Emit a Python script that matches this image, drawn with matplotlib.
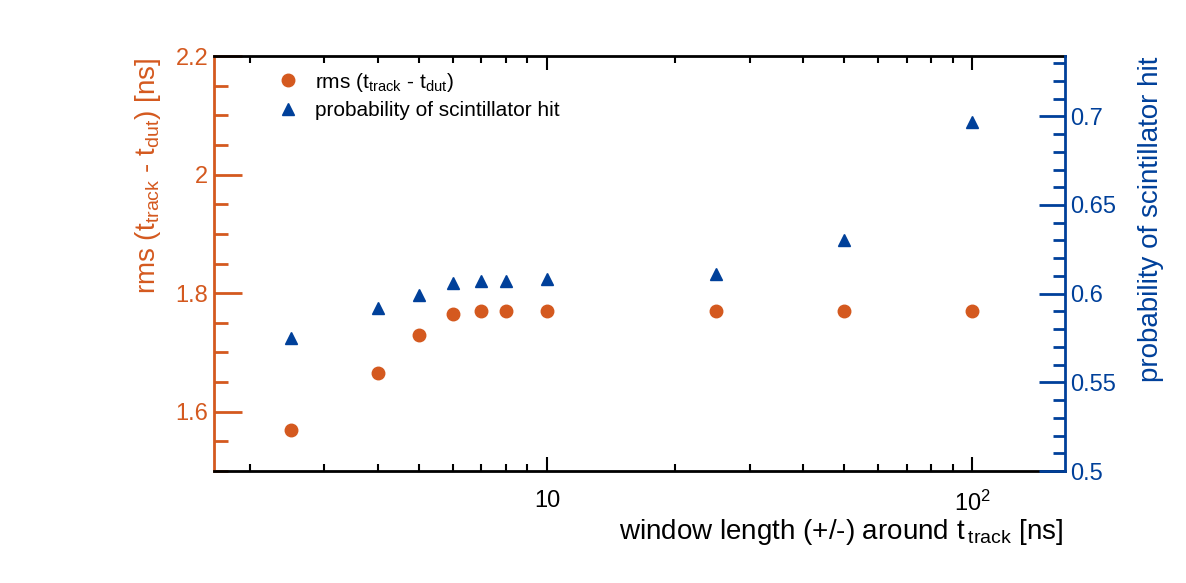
import matplotlib
matplotlib.use("Agg")
import matplotlib.pyplot as plt
from matplotlib.ticker import FixedLocator, NullFormatter, LogLocator, MultipleLocator

plt.rcParams['font.family'] = ['Liberation Sans', 'DejaVu Sans']
plt.rcParams['mathtext.fontset'] = 'custom'
plt.rcParams['mathtext.rm'] = 'Liberation Sans'
plt.rcParams['mathtext.it'] = 'Liberation Sans'
plt.rcParams['mathtext.default'] = 'rm'

# data
window = [2.5, 4, 5, 6, 7, 8, 10, 25, 50, 100]
rms = [1.569, 1.665, 1.730, 1.765, 1.770, 1.770, 1.770, 1.770, 1.770, 1.770]
prob = [0.575, 0.592, 0.599, 0.606, 0.607, 0.607, 0.608, 0.611, 0.6305, 0.6966]
xtick_vals = [10, 100]
xtick_labels = ['10', r'$10^{2}$']

ORANGE = '#d4591f'
BLUE = '#00409a'

fig = plt.figure(figsize=(11.86, 5.83), dpi=100)
W, H = 1186, 583
L, R, T, B = 214, 1065, 56, 471
ax = fig.add_axes([L / W, 1 - B / H, (R - L) / W, (B - T) / H])
ax2 = ax.twinx()

h1, = ax.plot(window, rms, 'o', color=ORANGE, ms=9, mec=ORANGE, zorder=3)
h2, = ax2.plot(window, prob, '^', color=BLUE, ms=9, mec=BLUE, zorder=3)

ax.set_xscale('log')
ax.set_xlim(1.65, 165)
ax.set_ylim(1.5, 2.2)
ax2.set_ylim(0.5, 0.734)

# x ticks
ax.xaxis.set_major_locator(FixedLocator(xtick_vals))
ax.set_xticklabels(xtick_labels)
ax.xaxis.set_minor_locator(LogLocator(base=10, subs=range(2, 10)))
ax.xaxis.set_minor_formatter(NullFormatter())
ax.tick_params(axis='x', which='both', direction='in', top=True, bottom=True,
               colors='black', labelsize=17, pad=14)
ax.tick_params(axis='x', which='major', length=10, width=1.5)
ax.tick_params(axis='x', which='minor', length=5, width=1.5)

# left y ticks
ax.yaxis.set_major_locator(FixedLocator([1.6, 1.8, 2.0, 2.2]))
ax.set_yticklabels(['1.6', '1.8', '2', '2.2'])
ax.yaxis.set_minor_locator(MultipleLocator(0.05))
ax.tick_params(axis='y', which='both', direction='in', left=True, right=False,
               colors=ORANGE, labelcolor=ORANGE, labelsize=17, pad=4)
ax.tick_params(axis='y', which='major', length=20, width=2)
ax.tick_params(axis='y', which='minor', length=10, width=2)

# right y ticks
ax2.yaxis.set_major_locator(FixedLocator([0.5, 0.55, 0.6, 0.65, 0.7]))
ax2.set_yticklabels(['0.5', '0.55', '0.6', '0.65', '0.7'])
ax2.yaxis.set_minor_locator(MultipleLocator(0.01))
ax2.tick_params(axis='y', which='both', direction='in', right=True, left=False,
                colors=BLUE, labelcolor=BLUE, labelsize=17, pad=4)
ax2.tick_params(axis='y', which='major', length=19, width=2)
ax2.tick_params(axis='y', which='minor', length=9, width=2)

for s in ['top', 'bottom']:
    ax.spines[s].set_color('black')
    ax.spines[s].set_linewidth(2)
ax.spines['left'].set_color(ORANGE)
ax.spines['left'].set_linewidth(2)
ax.spines['right'].set_visible(False)
ax2.spines['right'].set_color(BLUE)
ax2.spines['right'].set_linewidth(2)
for s in ['left', 'top', 'bottom']:
    ax2.spines[s].set_visible(False)

ax.set_ylabel(r'rms (t$_{track}$ - t$_{dut}$) [ns]', color=ORANGE, fontsize=20, loc='top')
ax.yaxis.set_label_coords(-0.06, 0.995)
ax2.set_ylabel('probability of scintillator hit', color=BLUE, fontsize=20, loc='top')
ax2.yaxis.set_label_coords(1.0858, 0.9976)
ax.set_xlabel(r'window length (+/-) around t$\,_{track}$ [ns]', fontsize=20, loc='right')
ax.xaxis.set_label_coords(0.9976, -0.112)

leg = ax.legend([h1, h2], [r'rms (t$_{track}$ - t$_{dut}$)', 'probability of scintillator hit'],
                loc='upper left', bbox_to_anchor=(0.075, 0.965), frameon=False,
                fontsize=15, handlelength=1.0, handletextpad=0.8, labelspacing=0.35,
                borderaxespad=0, borderpad=0)

fig.savefig('out.png', dpi=100)
